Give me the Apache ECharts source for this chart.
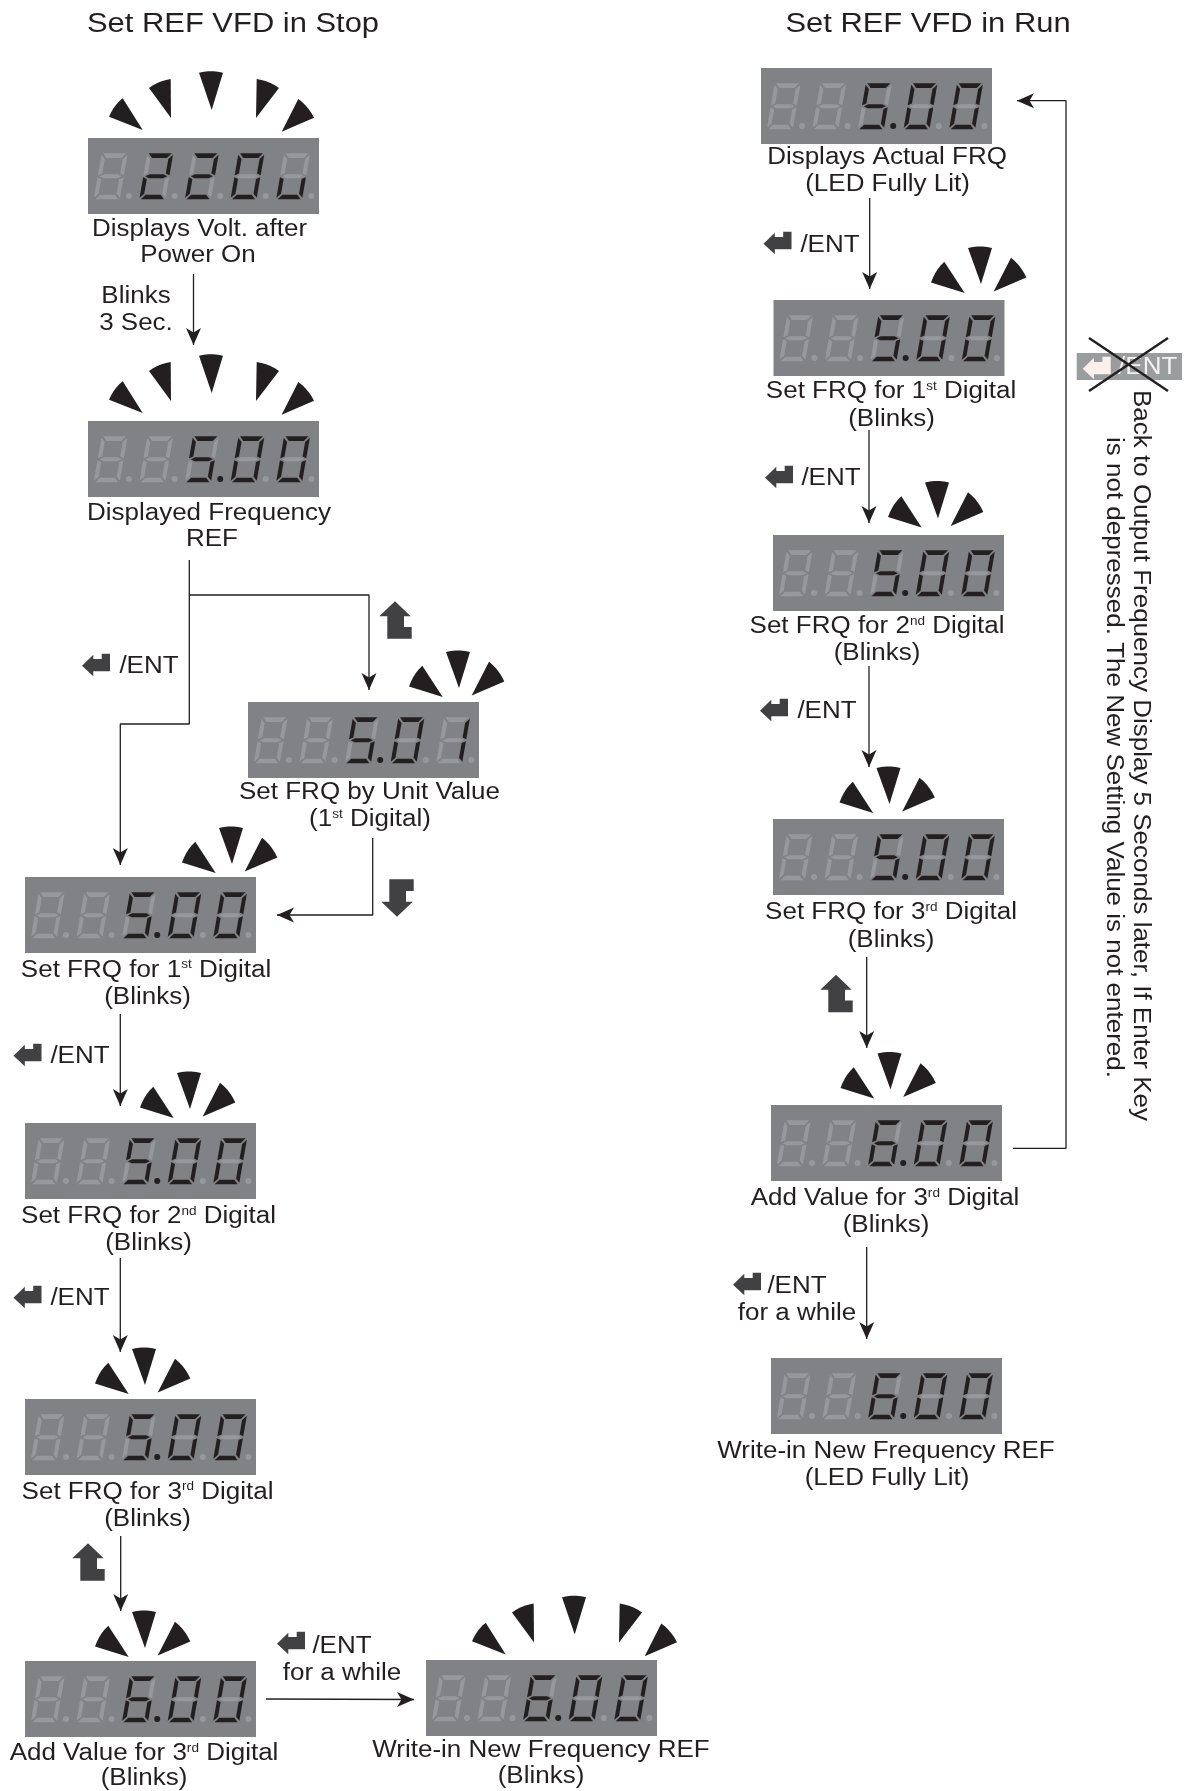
<!DOCTYPE html>
<html><head><meta charset="utf-8">
<style>html,body{margin:0;padding:0;background:#fff}#c{width:1186px;height:1791px}</style>
<script src="https://cdn.jsdelivr.net/npm/echarts@6/dist/echarts.min.js"></script>
</head><body><div id="c"></div>
<script>
// ---- content ----
const displayReadings = ['220v','5.00','5.01','5.00','5.00','5.00','6.00','6.00','5.00','5.00','5.00','5.00','6.00','6.00'];
const titleTexts = ['Set REF VFD in Stop','Set REF VFD in Run'];
const captionTexts = [
 'Displays Volt. after','Power On','Blinks','3 Sec.','Displayed Frequency','REF',
 'Set FRQ by Unit Value','(1{s|st} Digital)',
 'Set FRQ for 1{s|st} Digital','(Blinks)','Set FRQ for 2{s|nd} Digital','(Blinks)',
 'Set FRQ for 3{s|rd} Digital','(Blinks)','Add Value for 3{s|rd} Digital','(Blinks)',
 'Write-in New Frequency REF','(Blinks)',
 'Displays Actual FRQ','(LED Fully Lit)','Set FRQ for 1{s|st} Digital','(Blinks)',
 'Set FRQ for 2{s|nd} Digital','(Blinks)','Set FRQ for 3{s|rd} Digital','(Blinks)',
 'Add Value for 3{s|rd} Digital','(Blinks)','Write-in New Frequency REF','(LED Fully Lit)',
 '/ENT','/ENT','/ENT','/ENT','for a while','/ENT','/ENT','/ENT','/ENT','for a while'
];
const noteTexts = ['Back to Output Frequency Display 5 Seconds later, If Enter Key','is not depressed. The New Setting Value is not entered.'];
const crossedKeyText = '/ENT';

// ---- diagram layout (hidden axes run 1:1 over the page) ----
const displayX = [88,88,248,25,25,25,25,426,761,773.5,773,773,771,771];
const displayY = [138,421,702,877,1123,1399,1661,1660,68,300,535,819,1105,1358];
const wideRayX = [0,1,7], wideRayShiftX = [0,0,25], wideRayShiftY = [0,0,2.5];
const narrowRayX = [459,232,190,145,145,981,938,889.5,890.5];
const narrowRayY = [688,864,1109,1385,1648,284,518.5,804,1089.5];
const titleX = [233,928], titleY = [25,25];
const captionX = [199.5,198,136,136,209,212,369.5,370,146,147.5,148.5,148.5,147.5,147.5,144,144,541,541,887,887.5,891,891.5,877,877,891,891,885,886,886,887,
  149,80,80,342,342,830,831,827,797,797];
const captionY = [230,256,297,324,514,540,792.5,820,970.5,998,1217,1243.5,1492.5,1520,1754,1779,1751,1777,158,185,392,419.5,627,654,913,941,1199,1226,1451.5,1479,
  667,1057,1299,1647,1674,245.5,479,712,1287,1314];
const entKeyX = [96,27.5,27.5,291,777.5,779,774,747];
const entKeyY = [665,1055,1297,1643,243,477,710,1284];
const upKeyX = [395,88,836], upKeyY = [620,1562,993.5];
const downKeyX = [397], downKeyY = [898];
const connectors = [
 [[193.5,274],[193.5,345]],
 [[189.3,560],[189.3,595],[369,595],[369,690]],
 [[189.3,595],[189.3,724],[120.3,724],[120.3,865]],
 [[372.7,838],[372.7,915],[277,915]],
 [[120.3,1014],[120.3,1106]],
 [[120.3,1258],[120.3,1352]],
 [[120.7,1536],[120.7,1611]],
 [[266,1699],[414,1699.5]],
 [[869.7,198],[869.7,289]],
 [[869,430],[869,523]],
 [[869,666],[869,767]],
 [[866.7,957],[866.7,1048]],
 [[866.7,1247],[866.7,1339]],
 [[1013,1148.3],[1066,1148.3],[1066,100.7],[1017,100.7]]
];
const crossLines = [[[1089,338],[1168,391]],[[1168,338],[1089,391]]];

// ---- glyph geometry ----
const INK='#231f20', KEY='#414042', PANEL='#808285', DIM='#97989b';
const SEG={a:[[1.5,0],[24.5,0],[20.5,4.6],[5.5,4.6]],
 f:[[0,1.5],[4,5.6],[4,20.2],[0,22]],
 b:[[26,1.5],[22,5.6],[22,20.2],[26,22]],
 g:[[2,23],[6,21],[20,21],[24,23],[20,25],[6,25]],
 e:[[0,24],[4,25.8],[4,40.4],[0,44.5]],
 c:[[26,24],[22,25.8],[22,40.4],[26,44.5]],
 d:[[5.5,41.4],[20.5,41.4],[24.5,46],[1.5,46]]};
const GLYPH={'0':'abcdef','1':'bc','2':'abged','5':'afgcd','6':'afgedc','v':'cde'};
function parseReading(r){
  const cells=[{},{},{},{},{}];
  let k=5-r.replace('.','').length;
  for(let i=0;i<r.length;i++){
    if(r[i]==='.'){cells[k-1].dot=true;}else{cells[k].ch=r[i];k++;}
  }
  return cells;
}
function curved(tip,a,b){
  const mx=(a[0]+b[0])/2,my=(a[1]+b[1])/2,dx=mx-tip[0],dy=my-tip[1],l=Math.hypot(dx,dy);
  const c=[mx+dx/l*3,my+dy/l*3],pts=[tip];
  for(let t=0;t<=1.001;t+=0.2){const u=1-t;pts.push([u*u*a[0]+2*u*t*c[0]+t*t*b[0],u*u*a[1]+2*u*t*c[1]+t*t*b[1]]);}
  return pts;
}
const WIDE_RAYS=[[[54.7,-8],[21,-21.3],[34.7,-39.7]],[[83,-20],[61,-50],[82.7,-59]],[[123.7,-28],[111,-65.3],[135,-65.3]],
 [[168,-20],[168.7,-59],[191,-50]],[[193.7,-6.3],[226,-20.3],[210.3,-39]]];
const NARROW_RAYS=[[[-16.3,9],[-50,-1.6],[-36.7,-22.3]],[[0,0],[-13,-36],[11,-36]],[[12.7,7.4],[45.3,-6.6],[30,-26.3]]];
const ENT_SHAPE=[[-14,.7],[-2.7,-10.3],[-2.7,-6],[5.7,-6],[5.7,-11.3],[14,-11.3],[14,6.3],[-2.7,6.3],[-2.7,11.3]];
const UP_SHAPE=[[0,-18.7],[15.7,-3.7],[9,-3.7],[9,7],[16.7,7],[16.7,18.7],[-7.7,18.7],[-7.7,-3.7],[-15.7,-3.7]];
const DOWN_SHAPE=UP_SHAPE.map(p=>[p[0],-p[1]]);
const poly=(pts,fill)=>({type:'polygon',shape:{points:pts},style:{fill}});
const FONT='"Liberation Sans", Arial, sans-serif';
const textEl=(x,y,text,size,sx,fill,rot)=>({type:'text',x,y,scaleX:sx,rotation:rot||0,
  style:{text,fill,font:size+'px '+FONT,align:'center',verticalAlign:'middle',
   rich:{s:{fontSize:12,fontFamily:FONT,fill,verticalAlign:'top',padding:[0,0,0,0]}}}});

// ---- series ----
function custom(data,render,z){return {type:'custom',coordinateSystem:'cartesian2d',clip:false,silent:true,z:z||2,
  encode:{x:0,y:1},data,renderItem:render};}
function displayItem(p,api){
  const i=api.value(2),o=api.coord([api.value(0),api.value(1)]);
  const ch=[{type:'rect',shape:{x:0,y:0,width:231,height:76},style:{fill:PANEL}}];
  const cells=parseReading(displayReadings[i]),skew=8/46;
  cells.forEach((c,n)=>{
    const bx=5.7+45.6*n,by=15.3,lit=GLYPH[c.ch]||'';
    'abcdefg'.split('').forEach(s=>{
      if(!lit.includes(s))ch.push(poly(SEG[s].map(q=>[bx+q[0]+(46-q[1])*skew,by+q[1]]),DIM));
    });
    lit.split('').forEach(s=>ch.push(poly(SEG[s].map(q=>[bx+q[0]+(46-q[1])*skew,by+q[1]]),INK)));
    ch.push({type:'circle',shape:{cx:41+45.6*n,cy:58,r:3},style:{fill:c.dot?INK:DIM}});
  });
  return {type:'group',x:o[0],y:o[1],children:ch};
}
function raysItem(shapeSet){return (p,api)=>{
  const o=api.coord([api.value(0),api.value(1)]);
  return {type:'group',x:o[0],y:o[1],children:shapeSet.map(r=>poly(curved(r[0],r[1],r[2]),INK))};
};}
function keyItem(shape,fill){return (p,api)=>{
  const o=api.coord([api.value(0),api.value(1)]);
  return {type:'group',x:o[0],y:o[1],children:[poly(shape,fill)]};
};}
function arrowItem(p,api){
  const tip=api.coord([api.value(0),api.value(1)]),from=api.coord([api.value(2),api.value(3)]);
  const dx=tip[0]-from[0],dy=tip[1]-from[1],l=Math.hypot(dx,dy),u=[dx/l,dy/l],n=[-u[1],u[0]];
  const at=(a,b)=>[tip[0]+u[0]*a+n[0]*b,tip[1]+u[1]*a+n[1]*b];
  return poly([at(0,0),at(-17,7.5),at(-12.5,0),at(-17,-7.5)],INK);
}
function textItem(texts,xs,ys,size,sx){return (p,api)=>{
  const i=api.value(2),o=api.coord([xs[i],ys[i]]);
  return textEl(o[0],o[1],texts[i],size,sx,'#231f20');
};}
const idx=a=>a.map((_,i)=>[0,0,i]);
const pair=(xs,ys)=>xs.map((x,i)=>[x,ys[i]]);

const series=[];
connectors.forEach(c=>series.push({type:'line',data:c,symbol:'none',silent:true,animation:false,z:1,
  lineStyle:{color:INK,width:1.3}}));
series.push(custom(connectors.map(c=>{const a=c[c.length-1],b=c[c.length-2];return [a[0],a[1],b[0],b[1]];}),arrowItem,3));
series.push(custom(displayX.map((x,i)=>[x,displayY[i],i]),displayItem));
series.push(custom(wideRayX.map((d,i)=>[displayX[d]+wideRayShiftX[i],displayY[d]+wideRayShiftY[i]]),raysItem(WIDE_RAYS)));
series.push(custom(pair(narrowRayX,narrowRayY),raysItem(NARROW_RAYS)));
series.push(custom(pair(entKeyX,entKeyY),keyItem(ENT_SHAPE,KEY)));
series.push(custom(pair(upKeyX,upKeyY),keyItem(UP_SHAPE,KEY)));
series.push(custom(pair(downKeyX,downKeyY),keyItem(DOWN_SHAPE,KEY)));
series.push(custom(idx(titleTexts),textItem(titleTexts,titleX,titleY,27,1.145)));
series.push(custom(idx(captionTexts),textItem(captionTexts,captionX,captionY,23,1.13)));
// crossed-out key
series.push(custom([[1076.7,353]],(p,api)=>{
  const o=api.coord([api.value(0),api.value(1)]);
  return {type:'group',x:o[0],y:o[1],children:[
    {type:'rect',shape:{x:0,y:0,width:105.3,height:27},style:{fill:'#9b9c9e'}},
    {type:'group',x:20,y:15,children:[poly(ENT_SHAPE,'#fbf1ec')]},
    textEl(71,15,crossedKeyText,23,1.13,'#f4f2f1')
  ]};
},2));
crossLines.forEach(c=>series.push({type:'line',data:c,symbol:'none',silent:true,animation:false,z:4,
  lineStyle:{color:INK,width:2.4}}));
// rotated note
series.push(custom(idx(noteTexts),(p,api)=>{
  const i=api.value(2),o=api.coord([[1140,1113][i],[755.5,757.5][i]]);
  return textEl(o[0],o[1],noteTexts[i],23,1.13,'#231f20',-Math.PI/2);
}));

const chart=echarts.init(document.getElementById('c'),null,{renderer:'canvas'});
chart.setOption({animation:false,backgroundColor:'#fff',
  grid:{left:0,right:0,top:0,bottom:0},
  xAxis:{type:'value',min:0,max:1186,show:false},
  yAxis:{type:'value',min:0,max:1791,inverse:true,show:false},
  tooltip:{show:false},series});
</script></body></html>
